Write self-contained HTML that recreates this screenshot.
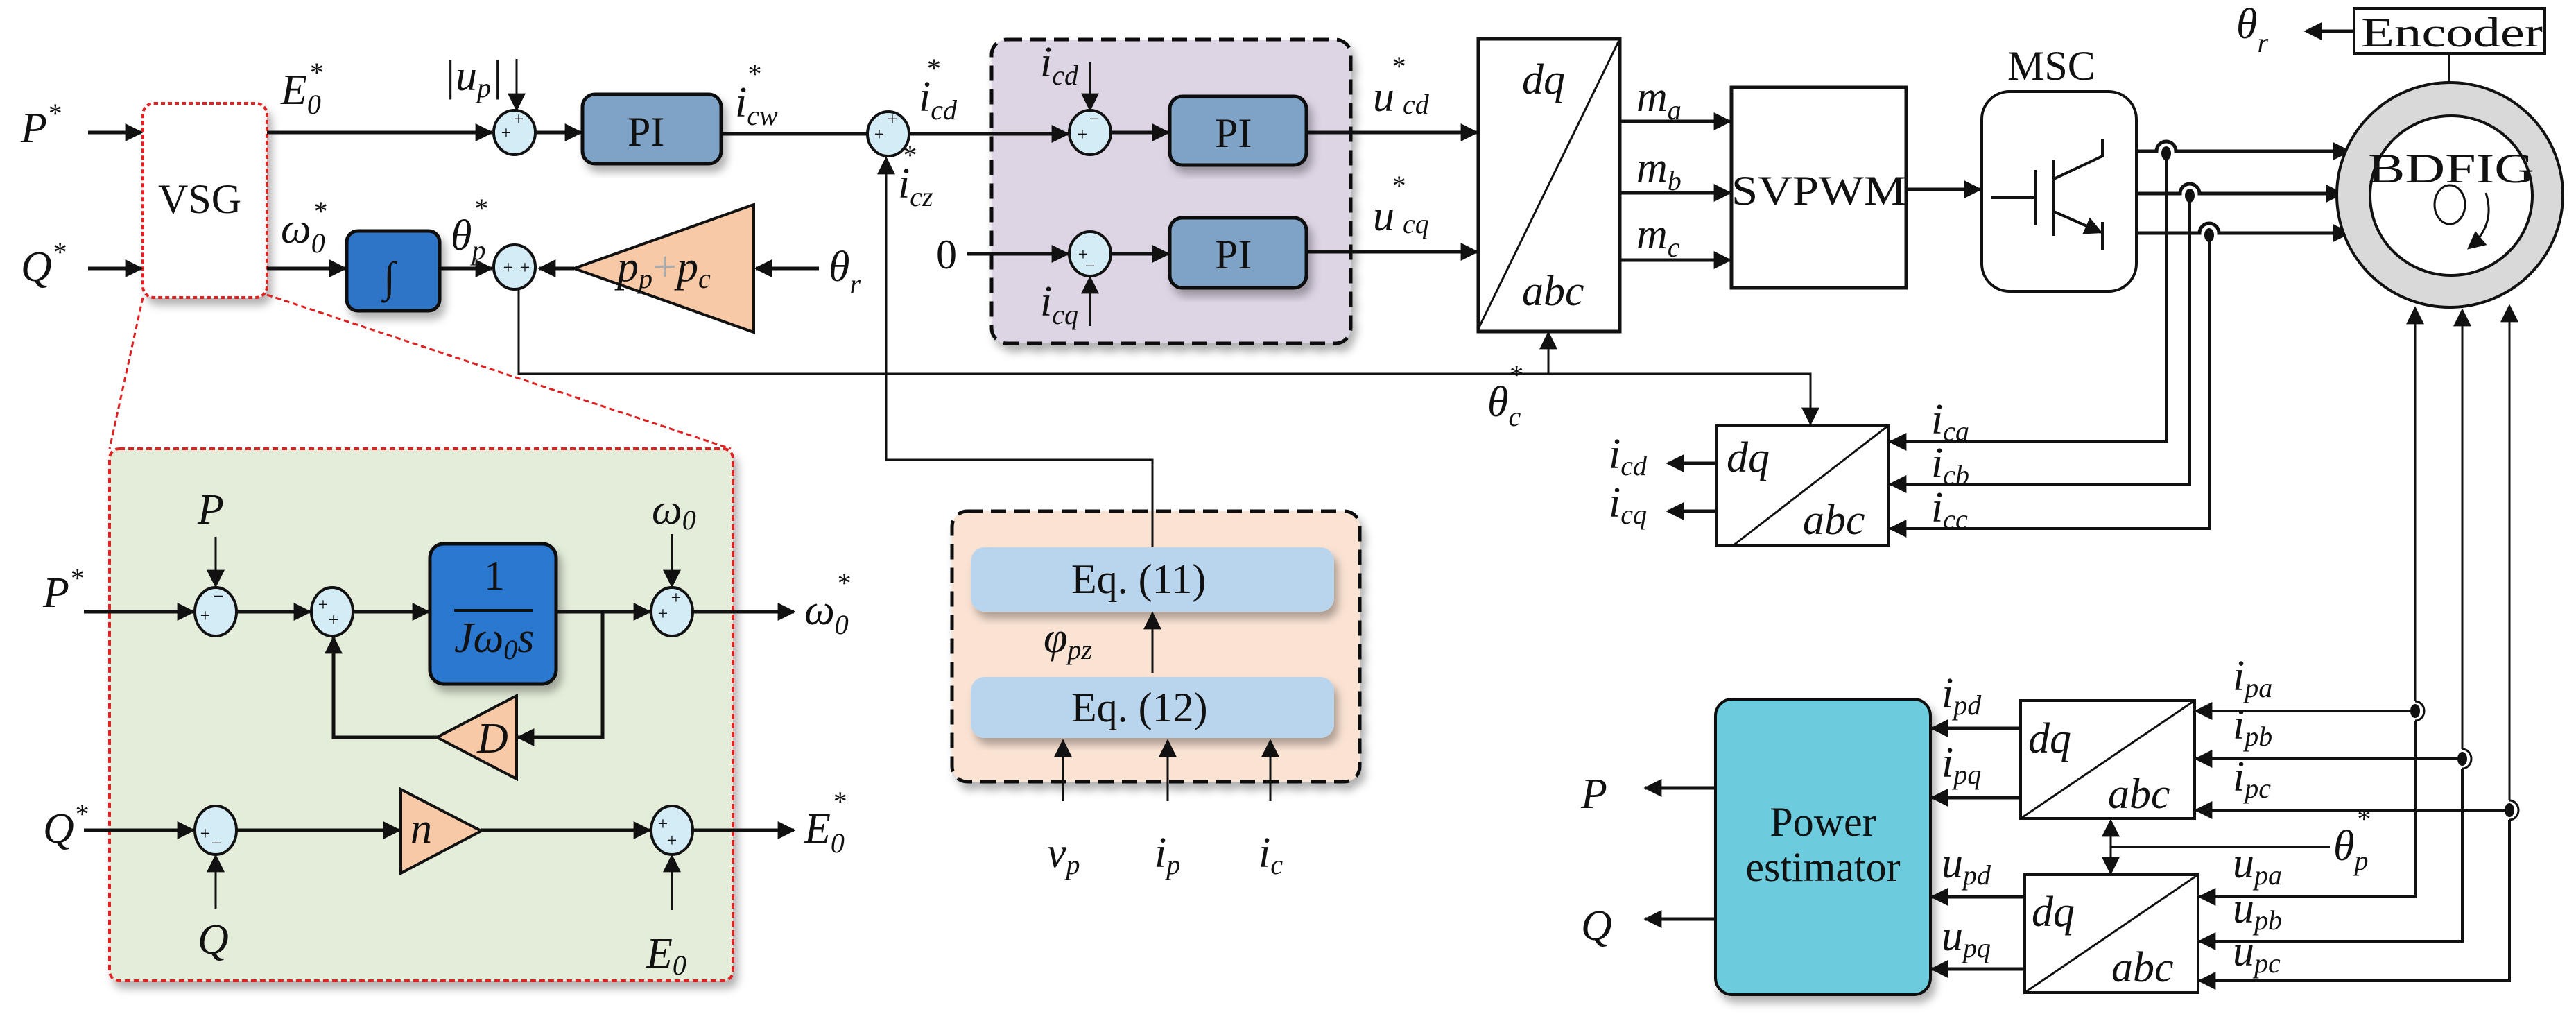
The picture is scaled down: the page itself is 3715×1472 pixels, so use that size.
<!DOCTYPE html>
<html><head><meta charset="utf-8"><style>
html,body{margin:0;padding:0;background:#fff;}
svg{display:block;font-family:"Liberation Serif","DejaVu Serif",serif;}
svg text, svg tspan{font-family:"Liberation Serif","DejaVu Serif",serif;}
text{fill:#111;}
.i{font-style:italic;font-size:62px;}
.s{font-size:40px;}
.r{font-size:60px;}
</style></head><body>
<svg width="3715" height="1472" viewBox="0 0 3715 1472" xmlns="http://www.w3.org/2000/svg" font-family="Liberation Serif, serif">
<defs>
<marker id="A" viewBox="0 0 10 10" refX="9" refY="5" markerWidth="28" markerHeight="26" markerUnits="userSpaceOnUse" orient="auto"><path d="M0,0 L10,5 L0,10 z" fill="#111"/></marker>
<filter id="sh" x="-10%" y="-10%" width="130%" height="130%"><feDropShadow dx="6" dy="10" stdDeviation="6" flood-color="#000" flood-opacity="0.3"/></filter>
</defs>
<g stroke="#111" stroke-width="5" fill="none">
<rect x="1430" y="57" width="518" height="438" rx="22" fill="#ddd4e4" stroke-dasharray="22,12" filter="url(#sh)"/>
<rect x="158" y="647" width="899" height="767" rx="14" fill="#e4edda" stroke="#e02020" stroke-width="4" stroke-dasharray="8,5" filter="url(#sh)"/>
<rect x="1373" y="737" width="588" height="390" rx="22" fill="#fbe3d3" stroke-dasharray="22,12" filter="url(#sh)"/>
<rect x="206" y="149" width="179" height="280" rx="16" fill="#fff" stroke="#e02020" stroke-width="4" stroke-dasharray="6,4" filter="url(#sh)"/>
<line x1="206" y1="429" x2="158" y2="647" stroke="#e02020" stroke-width="3" stroke-dasharray="8,5"/>
<line x1="385" y1="425" x2="1054" y2="647" stroke="#e02020" stroke-width="3" stroke-dasharray="8,5"/>

<line x1="127" y1="191" x2="204" y2="191" marker-end="url(#A)"/>
<line x1="127" y1="387" x2="204" y2="387" marker-end="url(#A)"/>
<line x1="385" y1="191" x2="709" y2="191" marker-end="url(#A)"/>
<line x1="745" y1="85" x2="745" y2="158" stroke-width="3" marker-end="url(#A)"/>
<line x1="775" y1="191" x2="838" y2="191" marker-end="url(#A)"/>
<line x1="1040" y1="193" x2="1250" y2="193"/>
<line x1="1313" y1="193" x2="1540" y2="193" marker-end="url(#A)"/>
<line x1="1572" y1="90" x2="1572" y2="158" stroke-width="3" marker-end="url(#A)"/>
<line x1="1604" y1="191" x2="1685" y2="191" marker-end="url(#A)"/>
<line x1="1395" y1="366" x2="1540" y2="366" marker-end="url(#A)"/>
<line x1="1572" y1="470" x2="1572" y2="400" stroke-width="3" marker-end="url(#A)"/>
<line x1="1604" y1="366" x2="1685" y2="366" marker-end="url(#A)"/>
<line x1="1884" y1="191" x2="2130" y2="191" marker-end="url(#A)"/>
<line x1="1884" y1="363" x2="2130" y2="363" marker-end="url(#A)"/>
<line x1="385" y1="387" x2="498" y2="387" marker-end="url(#A)"/>
<line x1="634" y1="387" x2="709" y2="387" marker-end="url(#A)"/>
<line x1="828" y1="387" x2="778" y2="387" marker-end="url(#A)"/>
<line x1="1181" y1="387" x2="1090" y2="387" marker-end="url(#A)"/>
<polyline points="748,414 748,539 2611,539 2611,611" stroke-width="3" marker-end="url(#A)"/>
<line x1="2233" y1="539" x2="2233" y2="480" stroke-width="3" marker-end="url(#A)"/>
<polyline points="1662,788 1662,663 1278,663 1278,228" stroke-width="3" marker-end="url(#A)"/>

<rect x="840" y="136" width="200" height="100" rx="18" fill="#7ea3c7" filter="url(#sh)"/>
<rect x="1687" y="139" width="197" height="99" rx="18" fill="#7ea3c7" filter="url(#sh)"/>
<rect x="1687" y="314" width="197" height="101" rx="18" fill="#7ea3c7" filter="url(#sh)"/>
<rect x="500" y="333" width="134" height="115" rx="16" fill="#2f74c8" filter="url(#sh)"/>
<polygon points="828,387 1087,295 1087,479" fill="#f8c9a7" stroke-width="4"/>

<g fill="#d4ecf5" stroke-width="4">
<ellipse cx="742" cy="191" rx="30" ry="32"/>
<ellipse cx="1281" cy="193" rx="30" ry="32"/>
<ellipse cx="1572" cy="191" rx="30" ry="32"/>
<ellipse cx="1572" cy="366" rx="30" ry="32"/>
<ellipse cx="742" cy="385" rx="30" ry="32"/>
<ellipse cx="311" cy="882" rx="30" ry="35"/>
<ellipse cx="479" cy="882" rx="30" ry="35"/>
<ellipse cx="969" cy="882" rx="30" ry="35"/>
<ellipse cx="311" cy="1197" rx="30" ry="35"/>
<ellipse cx="969" cy="1197" rx="30" ry="35"/>
</g>

<rect x="2132" y="56" width="204" height="422" fill="#fff"/>
<line x1="2132" y1="474" x2="2336" y2="56" stroke-width="3"/>
<line x1="2336" y1="175" x2="2495" y2="175" marker-end="url(#A)"/>
<line x1="2336" y1="278" x2="2495" y2="278" marker-end="url(#A)"/>
<line x1="2336" y1="375" x2="2495" y2="375" marker-end="url(#A)"/>
<rect x="2497" y="126" width="252" height="289" fill="#fff"/>
<line x1="2749" y1="273" x2="2856" y2="273" marker-end="url(#A)"/>
<rect x="2858" y="132" width="223" height="288" rx="40" fill="#fff" stroke-width="4"/>
<g stroke-width="4">
<line x1="2872" y1="285" x2="2935" y2="285"/>
<line x1="2935" y1="245" x2="2935" y2="325"/>
<line x1="2962" y1="230" x2="2962" y2="340"/>
<polyline points="2962,258 3032,225 3032,200"/>
<line x1="2962" y1="305" x2="3030" y2="335" marker-end="url(#A)"/>
<line x1="3032" y1="320" x2="3032" y2="360"/>
</g>
<path d="M3081,218 H3110 a14,14 0 0 1 28,0 H3388" marker-end="url(#A)"/>
<path d="M3081,279 H3144 a14,14 0 0 1 28,0 H3378" marker-end="url(#A)"/>
<path d="M3081,336 H3172 a14,14 0 0 1 28,0 H3388" marker-end="url(#A)"/>
<g fill="#111" stroke="none"><ellipse cx="3124" cy="221" rx="7" ry="10"/><ellipse cx="3158" cy="282" rx="7" ry="10"/><ellipse cx="3186" cy="339" rx="7" ry="10"/></g>
<polyline points="3124,221 3124,637 2726,637" stroke-width="4" marker-end="url(#A)"/>
<polyline points="3158,282 3158,698 2726,698" stroke-width="4" marker-end="url(#A)"/>
<polyline points="3186,339 3186,762 2726,762" stroke-width="4" marker-end="url(#A)"/>
<ellipse cx="3533" cy="281" rx="163" ry="162" fill="#d9d9d9" stroke-width="4"/>
<ellipse cx="3535" cy="282" rx="117" ry="115" fill="#fff" stroke-width="4"/>
<ellipse cx="3533" cy="295" rx="22" ry="28" stroke-width="3"/>
<path d="M3585,278 Q3600,325 3560,358" stroke-width="3" marker-end="url(#A)"/>
<rect x="3395" y="12" width="275" height="65" fill="#fff" stroke-width="4"/>
<line x1="3532" y1="77" x2="3532" y2="118" stroke-width="3"/>
<line x1="3395" y1="45" x2="3325" y2="45" marker-end="url(#A)"/>
<rect x="2475" y="613" width="249" height="173" fill="#fff" stroke-width="4"/>
<line x1="2500" y1="786" x2="2724" y2="613" stroke-width="3"/>
<line x1="2475" y1="668" x2="2405" y2="668" marker-end="url(#A)"/>
<line x1="2475" y1="737" x2="2405" y2="737" marker-end="url(#A)"/>

<line x1="3483" y1="1011" x2="3483" y2="444" stroke-width="3" marker-end="url(#A)"/>
<line x1="3551" y1="1080" x2="3551" y2="447" stroke-width="3" marker-end="url(#A)"/>
<line x1="3619" y1="1154" x2="3619" y2="441" stroke-width="3" marker-end="url(#A)"/>
<path d="M3483,1011 a13,14 0 0 1 0,28" stroke-width="3"/>
<path d="M3551,1080 a13,14 0 0 1 0,28" stroke-width="3"/>
<path d="M3619,1154 a13,14 0 0 1 0,28" stroke-width="3"/>
<g fill="#111" stroke="none"><ellipse cx="3483" cy="1025" rx="7" ry="10"/><ellipse cx="3551" cy="1094" rx="7" ry="10"/><ellipse cx="3619" cy="1168" rx="7" ry="10"/></g>
<line x1="3483" y1="1025" x2="3167" y2="1025" stroke-width="4" marker-end="url(#A)"/>
<line x1="3551" y1="1094" x2="3167" y2="1094" stroke-width="4" marker-end="url(#A)"/>
<line x1="3619" y1="1168" x2="3167" y2="1168" stroke-width="4" marker-end="url(#A)"/>
<polyline points="3483,1039 3483,1293 3172,1293" stroke-width="4" marker-end="url(#A)"/>
<polyline points="3551,1108 3551,1357 3172,1357" stroke-width="4" marker-end="url(#A)"/>
<polyline points="3619,1182 3619,1414 3172,1414" stroke-width="4" marker-end="url(#A)"/>
<rect x="2914" y="1010" width="251" height="170" fill="#fff" stroke-width="4"/>
<line x1="2914" y1="1180" x2="3165" y2="1010" stroke-width="3"/>
<rect x="2920" y="1261" width="250" height="170" fill="#fff" stroke-width="4"/>
<line x1="2920" y1="1431" x2="3170" y2="1261" stroke-width="3"/>
<line x1="3044" y1="1221" x2="3044" y2="1183" stroke-width="3" marker-end="url(#A)"/>
<line x1="3044" y1="1221" x2="3044" y2="1259" stroke-width="3" marker-end="url(#A)"/>
<line x1="3044" y1="1221" x2="3360" y2="1221" stroke-width="3"/>
<rect x="2474" y="1008" width="310" height="426" rx="24" fill="#6ccbdc" stroke-width="4" filter="url(#sh)"/>
<line x1="2914" y1="1050" x2="2786" y2="1050" marker-end="url(#A)"/>
<line x1="2914" y1="1150" x2="2786" y2="1150" marker-end="url(#A)"/>
<line x1="2920" y1="1293" x2="2786" y2="1293" marker-end="url(#A)"/>
<line x1="2920" y1="1397" x2="2786" y2="1397" marker-end="url(#A)"/>
<line x1="2474" y1="1136" x2="2373" y2="1136" marker-end="url(#A)"/>
<line x1="2474" y1="1325" x2="2373" y2="1325" marker-end="url(#A)"/>

<line x1="121" y1="882" x2="279" y2="882" marker-end="url(#A)"/>
<line x1="311" y1="774" x2="311" y2="845" stroke-width="3" marker-end="url(#A)"/>
<line x1="341" y1="882" x2="447" y2="882" marker-end="url(#A)"/>
<line x1="509" y1="882" x2="618" y2="882" marker-end="url(#A)"/>
<rect x="620" y="784" width="182" height="202" rx="20" fill="#2c78d0" filter="url(#sh)"/>
<line x1="802" y1="882" x2="937" y2="882" marker-end="url(#A)"/>
<line x1="969" y1="770" x2="969" y2="845" stroke-width="3" marker-end="url(#A)"/>
<line x1="999" y1="882" x2="1145" y2="882" marker-end="url(#A)"/>
<polyline points="869,882 869,1063 747,1063" marker-end="url(#A)"/>
<polygon points="630,1063 745,1003 745,1123" fill="#f8c9a7" stroke-width="4"/>
<polyline points="630,1063 481,1063 481,919" marker-end="url(#A)"/>
<line x1="121" y1="1197" x2="279" y2="1197" marker-end="url(#A)"/>
<line x1="341" y1="1197" x2="576" y2="1197" marker-end="url(#A)"/>
<polygon points="578,1138 694,1198 578,1259" fill="#f8c9a7" stroke-width="4"/>
<line x1="694" y1="1197" x2="937" y2="1197" marker-end="url(#A)"/>
<line x1="999" y1="1197" x2="1145" y2="1197" marker-end="url(#A)"/>
<line x1="311" y1="1310" x2="311" y2="1234" stroke-width="3" marker-end="url(#A)"/>
<line x1="969" y1="1312" x2="969" y2="1234" stroke-width="3" marker-end="url(#A)"/>

<rect x="1400" y="789" width="524" height="93" rx="20" fill="#b9d5ee" stroke="none" filter="url(#sh)"/>
<rect x="1400" y="976" width="524" height="88" rx="20" fill="#b9d5ee" stroke="none" filter="url(#sh)"/>
<line x1="1662" y1="970" x2="1662" y2="884" stroke-width="3" marker-end="url(#A)"/>
<line x1="1533" y1="1155" x2="1533" y2="1068" stroke-width="3" marker-end="url(#A)"/>
<line x1="1684" y1="1155" x2="1684" y2="1068" stroke-width="3" marker-end="url(#A)"/>
<line x1="1832" y1="1155" x2="1832" y2="1068" stroke-width="3" marker-end="url(#A)"/>
</g>

<g font-size="26" text-anchor="middle" font-family="Liberation Serif, serif">
<text x="748" y="180">+</text><text x="730" y="200">+</text>
<text x="1287" y="180">+</text><text x="1268" y="202">+</text>
<text x="1578" y="180">−</text><text x="1561" y="202">+</text>
<text x="1562" y="375">+</text><text x="1572" y="392">−</text>
<text x="733" y="394">+</text><text x="757" y="394">+</text>
<text x="315" y="868">−</text><text x="296" y="896">+</text>
<text x="466" y="880">+</text><text x="481" y="902">+</text>
<text x="975" y="870">+</text><text x="956" y="893">+</text>
<text x="296" y="1210">+</text><text x="312" y="1224">−</text>
<text x="956" y="1196">+</text><text x="969" y="1220">+</text>
</g>

<g font-family="Liberation Serif, serif">
<text class="i" x="30" y="205">P<tspan class="s" dy="-28">*</tspan></text>
<text class="i" x="30" y="405">Q<tspan class="s" dy="-28">*</tspan></text>
<text class="r" x="228" y="307" font-size="66">VSG</text>
<text class="i" x="553" y="420" font-size="90">∫</text>
<text class="i" x="405" y="150">E<tspan class="s" dy="14">0</tspan><tspan class="s" dx="-18" dy="-46">*</tspan></text>
<text class="i" x="405" y="350">ω<tspan class="s" dy="14">0</tspan><tspan class="s" dx="-18" dy="-46">*</tspan></text>
<text class="i" x="640" y="130">|u<tspan class="s" dy="10">p</tspan><tspan dy="-10">|</tspan></text>
<text class="r" x="905" y="210">PI</text>
<text class="i" x="1060" y="168">i<tspan class="s" dy="12">cw</tspan><tspan class="s" dx="-45" dy="-60">*</tspan></text>
<text class="i" x="1325" y="160">i<tspan class="s" dy="12">cd</tspan><tspan class="s" dx="-45" dy="-60">*</tspan></text>
<text class="i" x="1295" y="285">i<tspan class="s" dy="12">cz</tspan><tspan class="s" dx="-45" dy="-60">*</tspan></text>
<text class="i" x="1500" y="110">i<tspan class="s" dy="12">cd</tspan></text>
<text class="i" x="1500" y="455">i<tspan class="s" dy="12">cq</tspan></text>
<text class="r" x="1350" y="387">0</text>
<text class="r" x="1752" y="212">PI</text>
<text class="r" x="1752" y="387">PI</text>
<text class="i" x="650" y="360">θ<tspan class="s" dy="14">p</tspan><tspan class="s" dx="-18" dy="-60">*</tspan></text>
<text class="i" x="890" y="405">p<tspan class="s" dy="10">p</tspan><tspan dy="-10" font-style="normal" fill="#aaa">+</tspan><tspan>p</tspan><tspan class="s" dy="10">c</tspan></text>
<text class="i" x="1195" y="405">θ<tspan class="s" dy="18">r</tspan></text>
<text class="i" x="1980" y="160">u<tspan class="s" dx="12" dy="4">cd</tspan><tspan class="s" dx="-55" dy="-55">*</tspan></text>
<text class="i" x="1980" y="332">u<tspan class="s" dx="12" dy="4">cq</tspan><tspan class="s" dx="-55" dy="-55">*</tspan></text>
<text class="i" x="2195" y="135">dq</text>
<text class="i" x="2195" y="440">abc</text>
<text class="i" x="2360" y="160">m<tspan class="s" dy="12">a</tspan></text>
<text class="i" x="2360" y="262">m<tspan class="s" dy="12">b</tspan></text>
<text class="i" x="2360" y="358">m<tspan class="s" dy="12">c</tspan></text>
<text class="r" x="2497" y="295" textLength="252" lengthAdjust="spacingAndGlyphs">SVPWM</text>
<text class="r" x="2895" y="115">MSC</text>
<text class="r" x="3405" y="67" textLength="262" lengthAdjust="spacingAndGlyphs">Encoder</text>
<text class="i" x="3225" y="55">θ<tspan class="s" dy="20">r</tspan></text>
<text class="r" x="3415" y="263" textLength="240" lengthAdjust="spacingAndGlyphs">BDFIG</text>
<text class="i" x="2145" y="600">θ<tspan class="s" dy="14">c</tspan><tspan class="s" dx="-18" dy="-60">*</tspan></text>
<text class="i" x="2490" y="680">dq</text>
<text class="i" x="2600" y="770">abc</text>
<text class="i" x="2320" y="675">i<tspan class="s" dy="10">cd</tspan></text>
<text class="i" x="2320" y="745">i<tspan class="s" dy="10">cq</tspan></text>
<text class="i" x="2785" y="625">i<tspan class="s" dy="10">ca</tspan></text>
<text class="i" x="2785" y="688">i<tspan class="s" dy="10">cb</tspan></text>
<text class="i" x="2785" y="752">i<tspan class="s" dy="10">cc</tspan></text>
<text class="i" x="285" y="755">P</text>
<text class="i" x="62" y="875">P<tspan class="s" dy="-28">*</tspan></text>
<text class="i" x="62" y="1215">Q<tspan class="s" dy="-28">*</tspan></text>
<text class="i" x="285" y="1375">Q</text>
<text class="i" x="940" y="755">ω<tspan class="s" dy="8">0</tspan></text>
<text class="i" x="1160" y="900">ω<tspan class="s" dy="14">0</tspan><tspan class="s" dx="-18" dy="-60">*</tspan></text>
<text class="i" x="1160" y="1215">E<tspan class="s" dy="14">0</tspan><tspan class="s" dx="-18" dy="-60">*</tspan></text>
<text class="i" x="932" y="1395">E<tspan class="s" dy="10">0</tspan></text>
<text class="r" x="698" y="850" font-size="52">1</text>
<line x1="655" y1="880" x2="768" y2="880" stroke="#111" stroke-width="4"/>
<text class="i" x="655" y="940" font-size="52">Jω<tspan class="s" font-size="32" dy="10">0</tspan><tspan dy="-10">s</tspan></text>
<text class="i" x="688" y="1085" font-size="54">D</text>
<text class="i" x="592" y="1215" font-size="54">n</text>
<text class="r" x="1545" y="855">Eq. (11)</text>
<text class="r" x="1545" y="1040">Eq. (12)</text>
<text class="i" x="1505" y="940" font-size="50">φ<tspan class="s" font-size="34" dy="10">pz</tspan></text>
<text class="i" x="1510" y="1250">v<tspan class="s" dy="10">p</tspan></text>
<text class="i" x="1665" y="1250">i<tspan class="s" dy="10">p</tspan></text>
<text class="i" x="1815" y="1250">i<tspan class="s" dy="10">c</tspan></text>
<text class="r" x="2629" y="1205" text-anchor="middle">Power</text>
<text class="r" x="2629" y="1270" text-anchor="middle">estimator</text>
<text class="i" x="2280" y="1165">P</text>
<text class="i" x="2280" y="1355">Q</text>
<text class="i" x="2925" y="1085">dq</text>
<text class="i" x="3040" y="1165">abc</text>
<text class="i" x="2930" y="1335">dq</text>
<text class="i" x="3045" y="1415">abc</text>
<text class="i" x="2800" y="1020">i<tspan class="s" dy="10">pd</tspan></text>
<text class="i" x="2800" y="1120">i<tspan class="s" dy="10">pq</tspan></text>
<text class="i" x="2800" y="1265">u<tspan class="s" dy="10">pd</tspan></text>
<text class="i" x="2800" y="1370">u<tspan class="s" dy="10">pq</tspan></text>
<text class="i" x="3220" y="995">i<tspan class="s" dy="10">pa</tspan></text>
<text class="i" x="3220" y="1065">i<tspan class="s" dy="10">pb</tspan></text>
<text class="i" x="3220" y="1140">i<tspan class="s" dy="10">pc</tspan></text>
<text class="i" x="3220" y="1265">u<tspan class="s" dy="10">pa</tspan></text>
<text class="i" x="3220" y="1330">u<tspan class="s" dy="10">pb</tspan></text>
<text class="i" x="3220" y="1392">u<tspan class="s" dy="10">pc</tspan></text>
<text class="i" x="3365" y="1240">θ<tspan class="s" dy="14">p</tspan><tspan class="s" dx="-18" dy="-60">*</tspan></text>
</g>
</svg>
</body></html>
